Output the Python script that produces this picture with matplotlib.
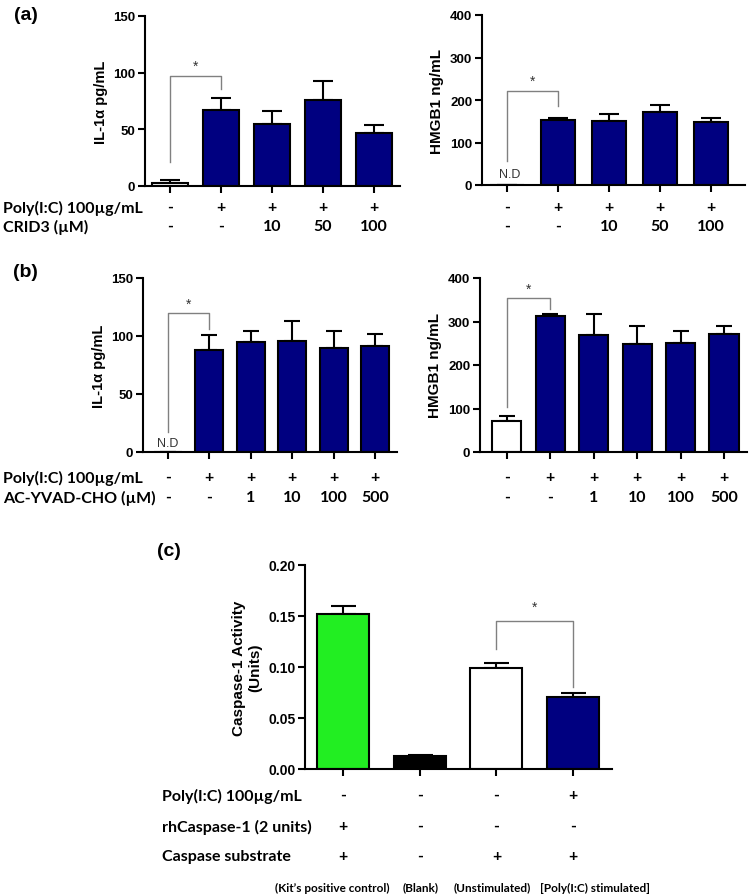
import numpy as np
import matplotlib.pyplot as plt
from matplotlib.transforms import blended_transform_factory

W, H = 749, 895
NAVY = '#000080'
GREEN = '#22ee22'
GREY = '#808080'

# ---- data ----
a_il1_vals = [3, 67, 55, 76, 47]
a_il1_err = [2.5, 11, 11, 17, 7]
a_hmgb_vals = [0, 153, 150, 172, 148]
a_hmgb_err = [0, 4, 18, 16, 9]
a_row1 = ['-', '+', '+', '+', '+']
a_row2 = ['-', '-', '10', '50', '100']

b_il1_vals = [0, 88, 95, 96, 90, 91]
b_il1_err = [0, 13, 9, 17, 14, 11]
b_hmgb_vals = [72, 313, 270, 248, 250, 271]
b_hmgb_err = [11, 5, 47, 41, 28, 18]
b_row1 = ['-', '+', '+', '+', '+', '+']
b_row2 = ['-', '-', '1', '10', '100', '500']

c_vals = [0.152, 0.013, 0.099, 0.071]
c_err = [0.008, 0.001, 0.005, 0.004]
c_colors = [GREEN, 'black', 'white', NAVY]
c_row1 = ['-', '-', '-', '+']
c_row2 = ['+', '-', '-', '-']
c_row3 = ['+', '-', '+', '+']
c_notes = ["(Kit\u2019s positive control)", "(Blank)", "(Unstimulated)", "[Poly(I:C) stimulated]"]

fig = plt.figure(figsize=(W / 100, H / 100), dpi=100)
plt.rcParams['font.family'] = 'Liberation Sans'


def px_axes(x0, x1, ytop, ybot):
    return fig.add_axes([x0 / W, 1 - ybot / H, (x1 - x0) / W, (ybot - ytop) / H])


def fy(ypix):
    return 1 - ypix / H


def style_axes(ax, yticks, ylabel, fmt=None, ylabsize=10.5, ticksize=9.5):
    for s in ['top', 'right']:
        ax.spines[s].set_visible(False)
    for s in ['left', 'bottom']:
        ax.spines[s].set_linewidth(1.5)
    ax.set_yticks(yticks)
    if fmt:
        ax.set_yticklabels([fmt.format(v) for v in yticks])
    ax.set_ylim(yticks[0], yticks[-1])
    ax.tick_params(axis='both', width=1.5, length=5, labelsize=ticksize, pad=2)
    for lab in ax.get_yticklabels():
        lab.set_fontweight('bold')
    ax.set_xticklabels([])
    ax.set_ylabel(ylabel, fontsize=ylabsize, fontweight='bold', labelpad=4)


def draw_bars(ax, vals, errs, colors, width, capsize):
    x = np.arange(len(vals))
    ax.bar(x, vals, width=width, color=colors, edgecolor='black', linewidth=1.5, zorder=2)
    ax.errorbar(x, vals, yerr=[np.zeros(len(vals)), errs], fmt='none', ecolor='black',
                elinewidth=1.5, capsize=capsize, capthick=1.5, zorder=1)
    ax.set_xticks(x)
    return x


def bracket(ax, x1, x2, y1, y2, ytop, ystar):
    ax.plot([x1, x1, x2, x2], [y1, ytop, ytop, y2], color=GREY, lw=1, zorder=3)
    ax.text((x1 + x2) / 2, ystar, '*', ha='center', va='center', fontsize=10, color='#333333')


def rows(ax, labels_list, ypix_list, size=11.5):
    tr = blended_transform_factory(ax.transData, fig.transFigure)
    for labels, yp in zip(labels_list, ypix_list):
        for i, t in enumerate(labels):
            ax.text(i, fy(yp), t, transform=tr, ha='center', va='center', fontsize=size,
                    fontweight='bold', family='Lato', clip_on=False)


def row_names(names, ypix_list, x=3, size=11.5):
    for n, yp in zip(names, ypix_list):
        fig.text(x / W, fy(yp), n, ha='left', va='center', fontsize=size, fontweight='bold', family='Lato')


# ---- panel (a) ----
ax1 = px_axes(145, 400, 17, 187)
draw_bars(ax1, a_il1_vals, a_il1_err, ['white'] + [NAVY] * 4, 0.69, 7)
ax1.set_xlim(-0.49, 4.51)
style_axes(ax1, [0, 50, 100, 150], 'IL-1\u03b1 pg/mL')
bracket(ax1, 0, 1, 21, 86, 97, 106)
rows(ax1, [a_row1, a_row2], [208, 227])

ax2 = px_axes(482, 745, 16, 186)
draw_bars(ax2, a_hmgb_vals, a_hmgb_err, ['white'] + [NAVY] * 4, 0.66, 7)
ax2.set_xlim(-0.49, 4.67)
style_axes(ax2, [0, 100, 200, 300, 400], 'HMGB1 ng/mL', ylabsize=11)
bracket(ax2, 0, 1, 56, 186, 221, 245)
ax2.text(0.05, 25, 'N.D', ha='center', va='center', fontsize=9, color='#333333')
rows(ax2, [a_row1, a_row2], [208, 227])

row_names(['Poly(I:C) 100\u00b5g/mL', 'CRID3 (\u00b5M)'], [208, 227])
fig.text(14 / W, fy(15), '(a)', fontsize=14, fontweight='bold', va='center', ha='left')

# ---- panel (b) ----
ax3 = px_axes(143, 397, 279, 453)
draw_bars(ax3, b_il1_vals, b_il1_err, ['white'] + [NAVY] * 5, 0.68, 6)
ax3.set_xlim(-0.6, 5.53)
style_axes(ax3, [0, 50, 100, 150], 'IL-1\u03b1 pg/mL')
bracket(ax3, 0, 1, 17, 106, 120, 128)
ax3.text(0, 8, 'N.D', ha='center', va='center', fontsize=9, color='#333333')
rows(ax3, [b_row1, b_row2], [478, 498])

ax4 = px_axes(480, 747, 279, 453)
draw_bars(ax4, b_hmgb_vals, b_hmgb_err, ['white'] + [NAVY] * 5, 0.67, 6)
ax4.set_xlim(-0.62, 5.53)
style_axes(ax4, [0, 100, 200, 300, 400], 'HMGB1 ng/mL', ylabsize=11)
bracket(ax4, 0, 1, 103, 329, 354, 375)
rows(ax4, [b_row1, b_row2], [478, 498])

row_names(['Poly(I:C) 100\u00b5g/mL', 'AC-YVAD-CHO (\u00b5M)'], [478, 498])
fig.text(13 / W, fy(273), '(b)', fontsize=14, fontweight='bold', va='center', ha='left')

# ---- panel (c) ----
ax5 = px_axes(305, 612, 566, 770)
draw_bars(ax5, c_vals, c_err, c_colors, 0.68, 9)
ax5.set_xlim(-0.5, 3.51)
style_axes(ax5, [0, 0.05, 0.10, 0.15, 0.20], 'Caspase-1 Activity\n(Units)', fmt='{:.2f}',
           ylabsize=11, ticksize=10)
bracket(ax5, 2, 3, 0.118, 0.080, 0.145, 0.159)
rows(ax5, [c_row1, c_row2, c_row3], [796, 827, 857])

# notes below the table: pixel x, alignment
note_x = [332, 421, 492, 540]
note_ha = ['center', 'center', 'center', 'left']
for t, xp, ha in zip(c_notes, note_x, note_ha):
    fig.text(xp / W, fy(888), t, ha=ha, va='center', fontsize=8.5, fontweight='bold', family='Lato')

row_names(['Poly(I:C) 100\u00b5g/mL', 'rhCaspase-1 (2 units)', 'Caspase substrate'], [796, 827, 857], x=162)
fig.text(157 / W, fy(552), '(c)', fontsize=14, fontweight='bold', va='center', ha='left')

fig.savefig('out.png', dpi=100)
